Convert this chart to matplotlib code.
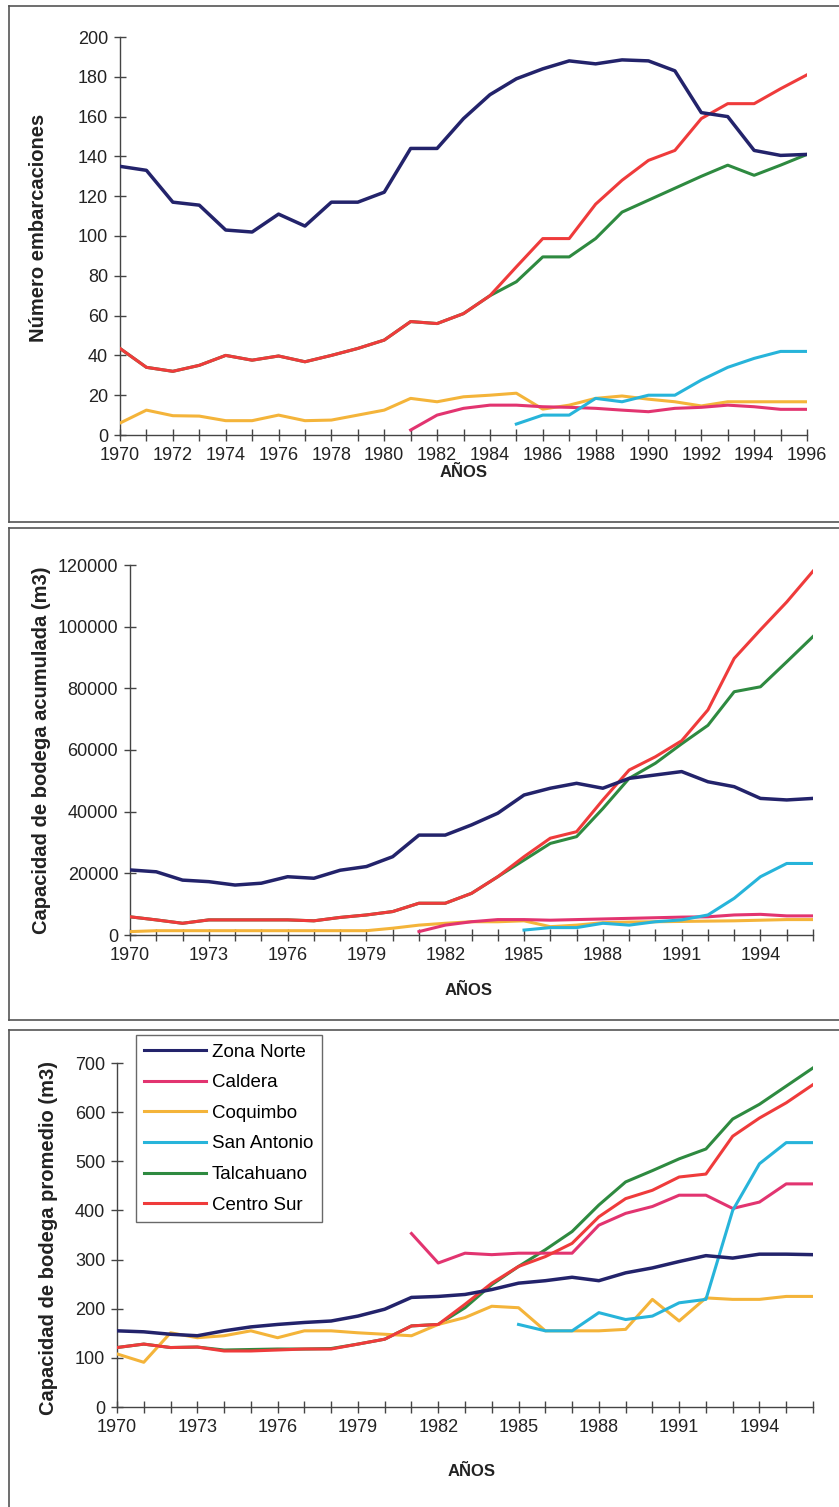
import matplotlib
matplotlib.use("Agg")
import matplotlib.pyplot as plt
from matplotlib.lines import Line2D
import numpy as np

plt.rcParams['font.family'] = ['Liberation Sans', 'DejaVu Sans']

years = list(range(1970, 1997))
years_caldera = list(range(1981, 1997))
years_sanantonio = list(range(1985, 1997))

series_names = ["Zona Norte", "Caldera", "Coquimbo", "San Antonio", "Talcahuano", "Centro Sur"]
colors = ["#23236b", "#e23470", "#f4b43a", "#27b4da", "#2e8a40", "#ef3b3b"]

# ---- Panel 1: Número embarcaciones ----
n_norte = [135, 133, 117, 115.5, 103, 102, 111, 105, 117, 117, 122, 144, 144, 159, 171, 179, 184, 188,
           186.5, 188.5, 188, 183, 162, 160, 143, 140.5, 141]
n_caldera = [2.5, 10, 13.4, 15, 15, 14.2, 13.9, 13.4, 12.5, 11.7, 13.4, 13.9, 15, 14.2, 12.9, 12.9]
n_coquimbo = [6, 12.5, 9.7, 9.5, 7.2, 7.2, 10, 7.2, 7.5, 10, 12.5, 18.4, 16.7, 19.2, 20, 21, 13, 15,
              18.4, 19.6, 18, 16.7, 14.6, 16.7, 16.7, 16.7, 16.7]
n_sanantonio = [5.5, 10, 10, 18.4, 16.7, 20, 20, 27.6, 34, 38.5, 42, 42]
n_centrosur = [43.5, 34, 32, 35, 40, 37.6, 39.7, 36.8, 40, 43.5, 47.7, 57, 56, 61, 70, 84.5, 98.7, 98.7,
               116, 128, 138, 143, 159, 166.5, 166.5, 174, 181]
n_talcahuano = [43.5, 34, 32, 35, 40, 37.6, 39.7, 36.8, 40, 43.5, 47.7, 57, 56, 61, 70, 77, 89.5, 89.5,
                98.7, 112, 118, 124, 130, 135.6, 130.5, 135.6, 141]

# ---- Panel 2: Capacidad de bodega acumulada (m3) ----
c_norte = [21100, 20500, 17800, 17300, 16200, 16800, 18900, 18400, 21000, 22200, 25400, 32400, 32400,
           35700, 39500, 45400, 47600, 49200, 47600, 50800, 51900, 53000, 49700, 48100, 44300, 43800, 44300]
c_caldera = [1100, 3200, 4300, 5000, 5000, 4800, 5000, 5200, 5400, 5600, 5800, 5900, 6500, 6700, 6200, 6200]
c_coquimbo = [1100, 1400, 1400, 1400, 1400, 1400, 1400, 1400, 1400, 1400, 2200, 3200, 3800, 4300, 4300,
              4600, 2700, 3200, 4000, 4200, 4300, 4400, 4500, 4600, 4800, 5000, 5000]
c_sanantonio = [1600, 2400, 2400, 3800, 3200, 4300, 4900, 6500, 11900, 18900, 23200, 23200]
c_centrosur = [5900, 4900, 3800, 4900, 4900, 4900, 4900, 4600, 5700, 6500, 7600, 10300, 10300, 13500,
               18900, 25400, 31400, 33500, 43800, 53500, 57800, 63000, 73000, 89700, 99000, 108000, 118000]
c_talcahuano = [5900, 4900, 3800, 4900, 4900, 4900, 4900, 4600, 5700, 6500, 7600, 10300, 10300, 13500,
                18900, 24300, 29700, 31900, 41000, 50800, 55700, 62000, 68000, 78900, 80500, 88600, 96800]

# ---- Panel 3: Capacidad de bodega promedio (m3) ----
p_norte = [155, 153, 148, 145, 155, 163, 168, 172, 175, 185, 199, 223, 225, 229, 239, 252, 257, 264,
           257, 273, 283, 296, 308, 303, 311, 311, 310]
p_caldera = [353, 293, 313, 310, 313, 313, 313, 370, 394, 408, 431, 431, 404, 417, 454, 454]
p_coquimbo = [108, 91, 151, 141, 145, 155, 141, 155, 155, 151, 148, 145, 168, 182, 205, 202, 155, 155,
              155, 158, 219, 175, 222, 219, 219, 225, 225]
p_sanantonio = [168, 155, 155, 192, 178, 185, 212, 219, 400, 495, 538, 538]
p_centrosur = [121, 128, 121, 122, 114, 114, 116, 118, 118, 128, 138, 165, 168, 209, 252, 286, 306, 333,
               387, 424, 441, 468, 474, 551, 588, 619, 656]
p_talcahuano = [121, 128, 121, 122, 116, 117, 118, 118, 119, 128, 138, 165, 168, 202, 249, 286, 320, 357,
                411, 458, 481, 505, 525, 586, 616, 653, 690]

W, H = 839, 1507
fig = plt.figure(figsize=(W / 100, H / 100), dpi=100)


def px_axes(left, right, top, bottom):
    return fig.add_axes([left / W, 1 - bottom / H, (right - left) / W, (bottom - top) / H])


def style(ax, ylim, yticks, xlabels_step, ylabel, ylabel_size):
    ax.set_xlim(1970, 1996)
    ax.set_ylim(*ylim)
    ax.set_yticks(yticks)
    ax.set_xticks(list(range(1970, 1997)))
    ax.set_xticklabels([str(y) if (y - 1970) % xlabels_step == 0 else "" for y in range(1970, 1997)])
    for s in ["top", "right"]:
        ax.spines[s].set_visible(False)
    for s in ["left", "bottom"]:
        ax.spines[s].set_color("#444444")
        ax.spines[s].set_linewidth(1.0)
    ax.tick_params(direction="inout", length=9, width=1.0, color="#444444", labelsize=13,
                   labelcolor="#222222", pad=4)
    ax.set_ylabel(ylabel, fontsize=ylabel_size, fontweight="bold", color="#222222")
    ax.set_xlabel("AÑOS", fontsize=12, fontweight="bold", color="#222222", labelpad=6)
    ax.set_facecolor("none")
    ax.patch.set_alpha(0)


def draw(ax, norte, caldera, coquimbo, sanantonio, talcahuano, centrosur):
    lw = 2.2
    ax.plot(years, talcahuano, color=colors[4], lw=lw, zorder=3)
    ax.plot(years, centrosur, color=colors[5], lw=lw, zorder=4)
    ax.plot(years, coquimbo, color=colors[2], lw=lw, zorder=3)
    ax.plot(years_caldera, caldera, color=colors[1], lw=lw, zorder=3)
    ax.plot(years_sanantonio, sanantonio, color=colors[3], lw=lw, zorder=3)
    ax.plot(years, norte, color=colors[0], lw=lw + 0.3, zorder=5)


# Panel frames
frame_col = "#555555"
for (y0, y1) in [(6, 522), (528, 1020), (1030, 1510)]:
    fig.add_artist(Line2D([9 / W, 9 / W], [1 - y0 / H, 1 - y1 / H], transform=fig.transFigure,
                          color=frame_col, lw=1.2))
    fig.add_artist(Line2D([9 / W, 1.0], [1 - y0 / H, 1 - y0 / H], transform=fig.transFigure,
                          color=frame_col, lw=1.2))
    if y1 < H:
        fig.add_artist(Line2D([9 / W, 1.0], [1 - y1 / H, 1 - y1 / H], transform=fig.transFigure,
                              color=frame_col, lw=1.2))

ax1 = px_axes(120, 807, 37, 435)
draw(ax1, n_norte, n_caldera, n_coquimbo, n_sanantonio, n_talcahuano, n_centrosur)
style(ax1, (0, 200), list(range(0, 201, 20)), 2, "Número embarcaciones", 14.5)
ax1.yaxis.set_label_coords(-0.105, 0.52)
ax1.xaxis.set_label_coords(0.5, -0.075)

ax2 = px_axes(130, 813, 565, 935)
draw(ax2, c_norte, c_caldera, c_coquimbo, c_sanantonio, c_talcahuano, c_centrosur)
style(ax2, (0, 120000), list(range(0, 120001, 20000)), 3, "Capacidad de bodega acumulada (m3)", 14.5)
ax2.yaxis.set_label_coords(-0.115, 0.5)
ax2.xaxis.set_label_coords(0.495, -0.13)

ax3 = px_axes(117, 813, 1063, 1407)
draw(ax3, p_norte, p_caldera, p_coquimbo, p_sanantonio, p_talcahuano, p_centrosur)
style(ax3, (0, 700), list(range(0, 701, 100)), 3, "Capacidad de bodega promedio (m3)", 14.5)
ax3.yaxis.set_label_coords(-0.085, 0.49)
ax3.xaxis.set_label_coords(0.51, -0.165)

handles = [Line2D([], [], color=c, lw=2.2) for c in colors]
leg = ax3.legend(handles, series_names, loc="upper left",
                 bbox_to_anchor=(136 / W, 1 - 1035 / H), bbox_transform=fig.transFigure,
                 fontsize=13.5, frameon=True, fancybox=False, handlelength=3.3,
                 handletextpad=0.3, borderpad=0.45, labelspacing=0.72, borderaxespad=0)
leg.get_frame().set_edgecolor("#444444")
leg.get_frame().set_linewidth(1.0)

fig.savefig("out.png", dpi=100)
